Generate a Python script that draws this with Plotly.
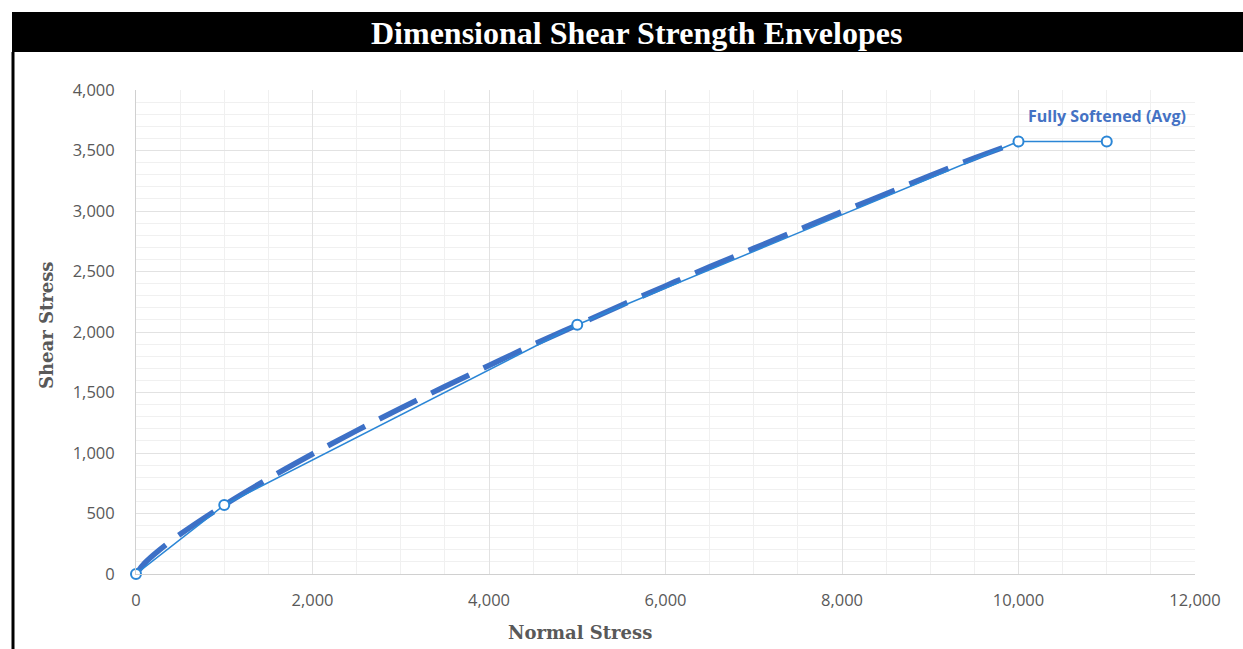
import plotly.graph_objects as go

# Data
env_x = [0, 1000, 5000, 10000, 11000]
env_y = [0, 570, 2060, 3575, 3575]

curve_x = [0, 100, 250, 500, 1000, 1500, 2000, 2500, 3000, 3500, 4000, 4500, 5000,
           5500, 6000, 6500, 7000, 7500, 8000, 8500, 9000, 9500, 10000]
curve_y = [0, 91, 189, 328, 570, 788, 992, 1185, 1370, 1550, 1723, 1895, 2058,
           2222, 2381, 2538, 2691, 2843, 2994, 3143, 3292, 3437, 3570]

series_label = "Fully Softened (Avg)"
title_text = "Dimensional Shear Strength Envelopes"
x_title = "Normal Stress"
y_title = "Shear Stress"

W, H = 1243, 649
L, R, T, B = 136, 1195, 90, 574
pw, ph = R - L, B - T

def px(x):
    return (x - L) / pw

def py(y):
    return (B - y) / ph

fig = go.Figure()
fig.add_trace(go.Scatter(
    x=curve_x, y=curve_y, mode="lines",
    line=dict(color="#3D70C6", width=5.5, dash="42px,16px", shape="spline"),
    hoverinfo="skip", showlegend=False))
fig.add_trace(go.Scatter(
    x=env_x, y=env_y, mode="lines+markers", cliponaxis=False,
    line=dict(color="#2B86D6", width=1.5),
    marker=dict(size=10, color="white", line=dict(color="#2B86D6", width=2)),
    showlegend=False))

fig.add_annotation(x=env_x[-1], y=env_y[-1], text="<b>" + series_label + "</b>",
                   showarrow=False, yshift=25, xshift=0,
                   xanchor="center", yanchor="middle",
                   font=dict(family="Open Sans", size=16, color="#4472C4"))

# black title bar and frame
fig.add_shape(type="rect", xref="paper", yref="paper",
              x0=px(12), x1=px(1260), y0=py(52), y1=py(12),
              fillcolor="black", line=dict(width=0), layer="above")
fig.add_shape(type="line", xref="paper", yref="paper",
              x0=px(13), x1=px(13), y0=py(52), y1=py(700),
              line=dict(color="black", width=3))
fig.add_annotation(xref="paper", yref="paper", x=px(636), y=py(33),
                   xanchor="center", yanchor="middle",
                   text="<b>" + title_text + "</b>", showarrow=False,
                   font=dict(family="Liberation Serif", size=32, color="white"))
fig.add_annotation(xref="paper", yref="paper", x=px(46), y=py(326),
                   xanchor="center", yanchor="middle",
                   text="<b>" + y_title + "</b>", showarrow=False, textangle=-90,
                   font=dict(family="DejaVu Serif", size=18, color="#595959"))
fig.add_annotation(xref="paper", yref="paper", x=px(580), y=py(632),
                   xanchor="center", yanchor="middle",
                   text="<b>" + x_title + "</b>", showarrow=False,
                   font=dict(family="DejaVu Serif", size=18, color="#595959"))

fig.update_xaxes(range=[0, 12000], dtick=2000, tickformat=",d",
                 showgrid=True, gridcolor="#E2E2E2", gridwidth=1,
                 minor=dict(dtick=500, showgrid=True, gridcolor="#F0F0F0", gridwidth=1),
                 showline=True, linecolor="#D0D0D0", linewidth=1,
                 zeroline=False, ticks="", ticklabelstandoff=11,
                 tickfont=dict(family="Open Sans", size=16.5, color="#595959"))
fig.update_yaxes(range=[0, 4000], dtick=500, tickformat=",d",
                 showgrid=True, gridcolor="#E2E2E2", gridwidth=1,
                 minor=dict(dtick=100, showgrid=True, gridcolor="#F0F0F0", gridwidth=1),
                 showline=True, linecolor="#D0D0D0", linewidth=1,
                 zeroline=False, ticks="", ticklabelstandoff=17,
                 tickfont=dict(family="Open Sans", size=16.5, color="#595959"))

fig.update_layout(width=W, height=H, margin=dict(l=L, r=W - R, t=T, b=H - B),
                  plot_bgcolor="white", paper_bgcolor="white")
fig.write_html("out.html", config={"displayModeBar": False},
               post_script="document.body.style.margin='0';document.body.style.overflow='hidden';")
